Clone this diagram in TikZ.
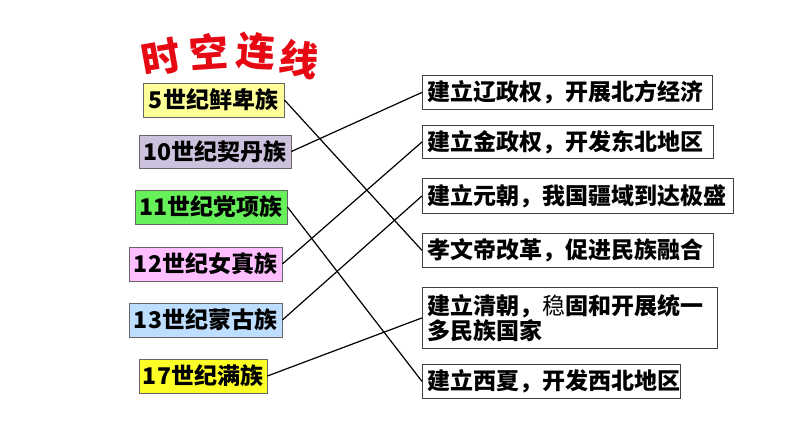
\documentclass[tikz,border=0pt]{standalone}
\usepackage{fontspec}
\setmainfont{Noto Sans CJK SC}
\definecolor{titlered}{RGB}{230,8,18}
\definecolor{cxianbei}{RGB}{255,255,153}
\definecolor{cqidan}{RGB}{204,194,222}
\definecolor{cdangxiang}{RGB}{102,240,90}
\definecolor{cnvzhen}{RGB}{255,190,255}
\definecolor{cmenggu}{RGB}{190,222,255}
\definecolor{cman}{RGB}{255,255,40}
\begin{document}
\begin{tikzpicture}[x=1bp,y=-1bp,
  lbox/.style={draw=black!60, line width=0.8bp, inner sep=0pt,
    font=\fontsize{23bp}{25bp}\selectfont\bfseries},
  rbox/.style={draw=black!75, line width=0.8bp, anchor=north west,
    inner xsep=5bp, inner ysep=0pt, align=left,
    font=\fontsize{23bp}{25bp}\selectfont\bfseries},
  link/.style={line width=1.2bp},
  ttl/.style={text=titlered, inner sep=0pt,
    font=\fontsize{39bp}{39bp}\selectfont\bfseries}]
\useasboundingbox[fill=white] (0,0) rectangle (794,447);

% title
\node[ttl, rotate=10] (t1) at (161,57) {时};
\node[ttl, rotate=4]  (t2) at (209,51) {空};
\node[ttl, rotate=-4] (t3) at (256,51) {连};
\node[ttl, rotate=-10] (t4) at (299,59) {线};

% left boxes
\node[lbox, fill=cxianbei, minimum width=141bp, minimum height=34bp] (l1) at (213.5,100) {5世纪鲜卑族};
\node[lbox, fill=cqidan, minimum width=152bp, minimum height=33bp] (l2) at (215,151.5) {10世纪契丹族};
\node[lbox, fill=cdangxiang, minimum width=152bp, minimum height=34bp] (l3) at (211,207) {11世纪党项族};
\node[lbox, fill=cnvzhen, minimum width=153bp, minimum height=34bp] (l4) at (205.5,264) {12世纪女真族};
\node[lbox, fill=cmenggu, minimum width=153bp, minimum height=34bp] (l5) at (205.5,320) {13世纪蒙古族};
\node[lbox, fill=cman, minimum width=128bp, minimum height=34bp] (l6) at (203,376) {17世纪满族};

% right boxes
\node[rbox, text width=280bp, minimum height=34bp] (r1) at (422,75) {建立辽政权，开展北方经济};
\node[rbox, text width=281bp, minimum height=33bp] (r2) at (422,125) {建立金政权，开发东北地区};
\node[rbox, text width=301bp, minimum height=35bp] (r3) at (422,178) {建立元朝，我国疆域到达极盛};
\node[rbox, text width=281bp, minimum height=34bp] (r4) at (422,233) {孝文帝改革，促进民族融合};
\node[rbox, text width=285bp, minimum height=61bp] (r5) at (422,287) {建立清朝，{\mdseries 稳}固和开展统一\\多民族国家};
\node[rbox, text width=248bp, minimum height=34bp] (r6) at (422,364) {建立西夏，开发西北地区};

% links
\draw[link] (l1.east) -- (r4.west);
\draw[link] (l2.east) -- (r1.west);
\draw[link] (l3.east) -- (r6.west);
\draw[link] (l4.east) -- (r2.west);
\draw[link] (l5.east) -- (r3.west);
\draw[link] (l6.east) -- (r5.west);
\end{tikzpicture}
\end{document}
